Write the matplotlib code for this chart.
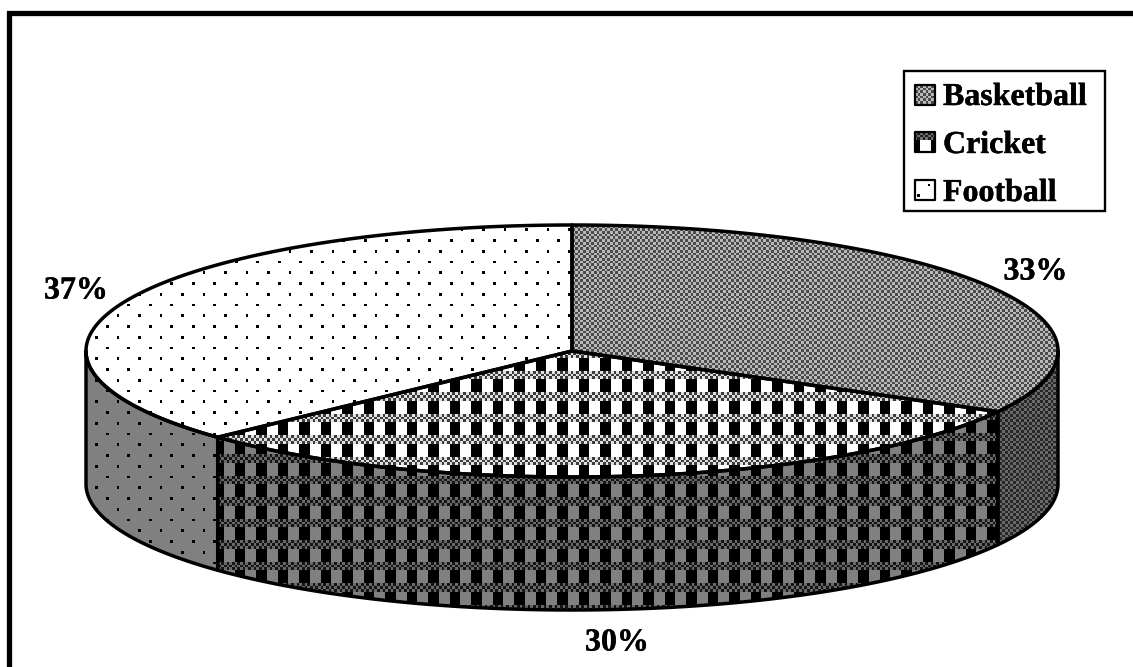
import numpy as np
import matplotlib
matplotlib.use("Agg")
import matplotlib.pyplot as plt
import matplotlib.patheffects as pe
from matplotlib.patches import Polygon, Rectangle

categories = ["Basketball", "Cricket", "Football"]
shares = [33, 30, 37]
labels = ["33%", "30%", "37%"]

W, H = 1133, 667
CX, CY, RX, RY, DEPTH = 572, 351, 486, 126, 133
U = 21.5 / 8
FONT = "Liberation Serif"
HEAVY = [pe.withStroke(linewidth=0.3, foreground="black")]

fig = plt.figure(figsize=(W / 100, H / 100), dpi=100)
ax = fig.add_axes([0, 0, 1, 1])
ax.axis("off")


def tile_dots(bg, fg):
    t = np.full((8, 8), bg, float)
    t[0, 0] = fg
    t[4, 4] = fg
    return t


def tile_checker(a, b):
    return np.array([[a if (i + j) % 2 == 0 else b for j in range(8)] for i in range(8)], float)


def tile_weave(light, dark, band_a, band_b):
    t = np.zeros((8, 8))
    for i in range(8):
        for j in range(8):
            if i < 3:
                t[i, j] = band_a if (i + j) % 2 == 0 else band_b
            else:
                t[i, j] = light if j < 4 else dark
    return t


def texture(tile, x0, y0, box):
    x1, y1, x2, y2 = box
    xs = np.arange(x1, x2) + 0.5
    ys = np.arange(y1, y2) + 0.5
    ix = np.floor((xs - x0) / U).astype(int) % 8
    iy = np.floor((ys - y0) / U).astype(int) % 8
    return tile[np.ix_(iy, ix)]


def show(tile, x0, y0, box, z):
    return ax.imshow(texture(tile, x0, y0, box), cmap="gray", vmin=0, vmax=255,
                     extent=(box[0], box[2], box[3], box[1]), interpolation="bilinear",
                     zorder=z, aspect="auto")


def fill(points, tile, x0, y0):
    pts = np.asarray(points)
    box = (int(pts[:, 0].min()) - 1, int(pts[:, 1].min()) - 1,
           int(pts[:, 0].max()) + 2, int(pts[:, 1].max()) + 2)
    im = show(tile, x0, y0, box, 2)
    poly = Polygon(pts, closed=True, transform=ax.transData, fc="none", ec="none")
    ax.add_patch(poly)
    im.set_clip_path(poly)


def outline(points, lw=2.5):
    ax.add_patch(Polygon(points, closed=True, fc="none", ec="black", lw=lw,
                         zorder=3, joinstyle="round"))


def ell(t, dy=0.0):
    t = np.asarray(t)
    return np.column_stack([CX + RX * np.sin(t), CY + dy - RY * np.cos(t)])


T_BASK_TOP = tile_checker(75, 185)
T_BASK_SIDE = tile_checker(40, 105)
T_CRIC_TOP = tile_weave(255, 0, 225, 60)
T_CRIC_SIDE = tile_weave(128, 0, 105, 20)
T_FOOT_TOP = tile_dots(255, 0)
T_FOOT_SIDE = tile_dots(128, 0)

top_tiles = [T_BASK_TOP, T_CRIC_TOP, T_FOOT_TOP]
side_tiles = [T_BASK_SIDE, T_CRIC_SIDE, T_FOOT_SIDE]
phase_top = [(0, 0), (503.5, 414), (170.4, 389.7)]
phase_side = [(0, 0), (503.5, 519), (170.4, 389.7)]

# wedge angles, clockwise from twelve o'clock
edges = np.concatenate([[0], np.cumsum(shares)]) / sum(shares) * 2 * np.pi

# side walls: only the front half of the ellipse is visible
for i in range(3):
    a = max(edges[i], np.pi / 2)
    b = min(edges[i + 1], 3 * np.pi / 2)
    if a >= b:
        continue
    t = np.linspace(a, b, 200)
    pts = np.vstack([ell(t), ell(t[::-1], DEPTH)])
    fill(pts, side_tiles[i], *phase_side[i])
    outline(pts)

# top faces
for i in range(3):
    t = np.linspace(edges[i], edges[i + 1], 300)
    pts = np.vstack([[[CX, CY]], ell(t)])
    fill(pts, top_tiles[i], *phase_top[i])
    outline(pts)

# outer frame: left and top rules only
ax.plot([8.5, 8.5, W + 5], [H + 5, 13.2, 13.2], color="black", lw=3.8, zorder=5,
        solid_joinstyle="miter", clip_on=True)

# data labels
label_xy = [(1035.5, 272), (617, 643), (76, 291)]
for s, (x, y) in zip(labels, label_xy):
    ax.text(x, y, s, family=FONT, weight="bold", fontsize=23, ha="center", va="center",
            color="black", zorder=6, path_effects=HEAVY)

# legend
ax.add_patch(Rectangle((904, 71), 201, 140, fc="white", ec="black", lw=1.7, zorder=6))
leg_tops = [85, 132, 180]
leg_phase = [(915, 85), (920, 132), (927.7, 183.7)]
for i, name in enumerate(categories):
    top = leg_tops[i]
    box = (915, top, 935, top + 20)
    show(top_tiles[i] if i != 1 else tile_weave(255, 0, 110, 30), *leg_phase[i], box, 7)
    ax.add_patch(Rectangle((box[0], box[1]), 20, 20, fc="none", ec="black", lw=1.6, zorder=8,
                           joinstyle="round"))
    ax.text(943, 97.5 + i * 48, name, family=FONT, weight="bold", fontsize=23, ha="left",
            va="center", color="black", zorder=8, path_effects=HEAVY)

ax.set_xlim(0, W)
ax.set_ylim(H, 0)
fig.savefig("out.png", dpi=100, facecolor="white")
